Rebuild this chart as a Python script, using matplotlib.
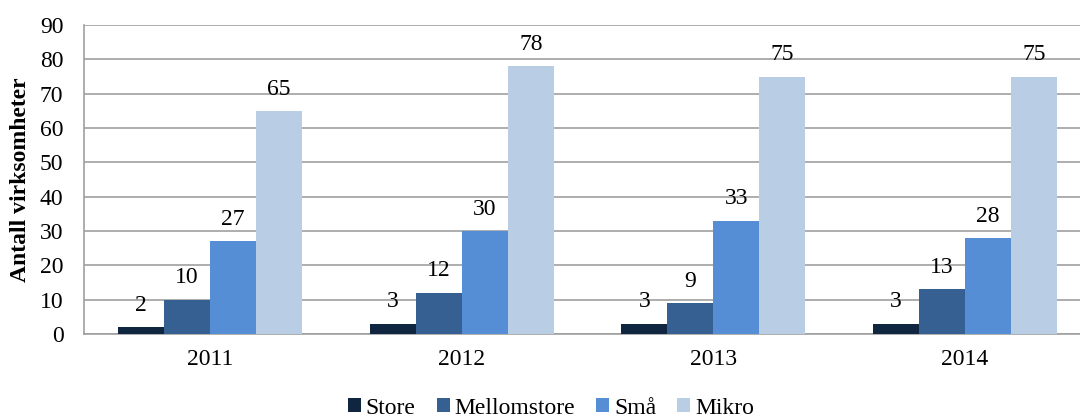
import numpy as np
import matplotlib.pyplot as plt

years = ["2011", "2012", "2013", "2014"]
series = ["Store", "Mellomstore", "Små", "Mikro"]
store = [2, 3, 3, 3]
mellomstore = [10, 12, 9, 13]
smaa = [27, 30, 33, 28]
mikro = [65, 78, 75, 75]
colors = ["#10253F", "#376092", "#558ED5", "#B9CDE5"]

plt.rcParams['font.family'] = ['Liberation Serif', 'DejaVu Serif']

fig = plt.figure(figsize=(10.8, 4.19), dpi=100)
ax = fig.add_axes([0.078, 0.203, 0.932, 0.737])

x = np.arange(len(years))
w = 0.183
for i, (name, vals) in enumerate(zip(series, [store, mellomstore, smaa, mikro])):
    pos = x + (i - 1.5) * w
    ax.bar(pos, vals, w, color=colors[i], label=name, zorder=3)
    for p, v in zip(pos, vals):
        ax.text(p, v + 3.3, str(v), ha='center', va='bottom', fontsize=17, zorder=4)

ax.set_xlim(-0.5, 3.5)
ax.set_ylim(0, 90)
ax.set_yticks(range(0, 91, 10))
ax.set_xticks(x)
ax.set_xticklabels(years)
ax.tick_params(axis='both', length=0, labelsize=17)
ax.tick_params(axis='y', pad=15)
ax.tick_params(axis='x', pad=11)
ax.grid(axis='y', color='#a0a0a0', linewidth=1.2, zorder=0)
for s in ['top', 'right']:
    ax.spines[s].set_visible(False)
for s in ['left', 'bottom']:
    ax.spines[s].set_color('#a0a0a0')
    ax.spines[s].set_linewidth(1.2)
ax.set_ylabel("Antall virksomheter", fontsize=17, fontweight='bold', labelpad=6)

fig.legend(loc='lower center', bbox_to_anchor=(0.51, -0.05), ncol=4, frameon=False,
           fontsize=17, handlelength=0.55, handleheight=0.55, handletextpad=0.2,
           columnspacing=0.9)

fig.savefig("out.png", dpi=100)
